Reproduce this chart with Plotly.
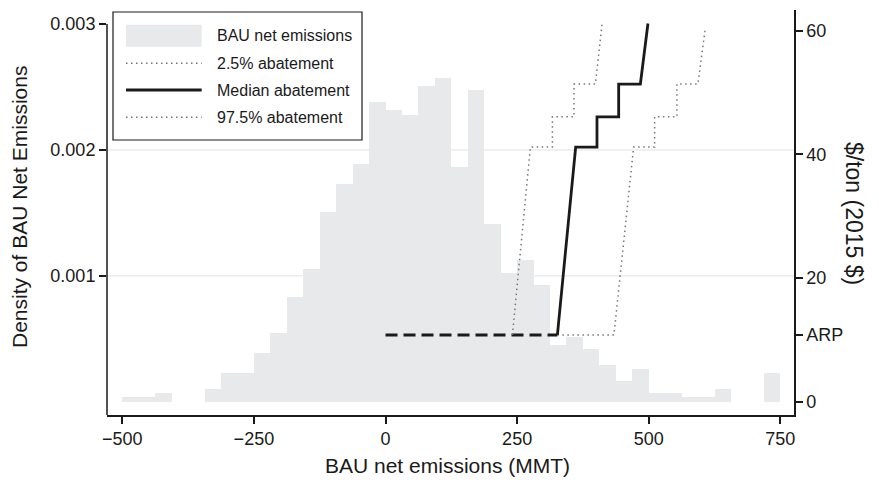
import plotly.graph_objects as go

# ---------------- data ----------------
bin_width = 31.25
bin_left = [-500, -468.75, -437.5, -343.75, -312.5, -281.25, -250, -218.75, -187.5, -156.25,
            -125, -93.75, -62.5, -31.25, 0, 31.25, 62.5, 93.75, 125, 156.25,
            187.5, 218.75, 250, 281.25, 312.5, 343.75, 375, 406.25, 437.5, 468.75,
            500, 531.25, 562.5, 593.75, 625, 718.75]
density = [0.00004, 0.00004, 0.000072, 0.000101, 0.000231, 0.000231, 0.00039, 0.000549, 0.000835, 0.001056,
           0.001509, 0.001732, 0.001891, 0.002379, 0.002313, 0.002281, 0.002506, 0.002567, 0.001861, 0.002472,
           0.001414, 0.001024, 0.001127, 0.000928, 0.000451, 0.000512, 0.000419, 0.000292, 0.000165, 0.00026,
           0.000069, 0.000069, 0.000037, 0.000037, 0.000101, 0.000228]

ARP = 10.8
arp_x = [0, 326.5]
arp_y = [ARP, ARP]

median_x = [326.5, 361.2, 401.7, 401.7, 442.9, 442.9, 484.1, 498.5]
median_y = [ARP, 41.2, 41.2, 46.1, 46.1, 51.4, 51.4, 61.2]

p025_x = [241.1, 275.2, 317.0, 317.0, 358.0, 358.0, 398.6, 411.2]
p025_y = [ARP, 41.2, 41.2, 46.1, 46.1, 51.4, 51.4, 61.0]

p975_x = [326.5, 433.9, 471.3, 511.2, 511.2, 553.5, 553.5, 593.4, 607.4]
p975_y = [ARP, ARP, 41.2, 41.2, 46.1, 46.1, 51.4, 51.4, 60.4]

x_ticks = [-500, -250, 0, 250, 500, 750]
x_ticktext = ["\u2212500", "\u2212250", "0", "250", "500", "750"]
left_ticks = [0.001, 0.002, 0.003]
left_ticktext = ["0.001", "0.002", "0.003"]
right_ticks = [0, ARP, 20, 40, 60]
right_ticktext = ["0", "ARP", "20", "40", "60"]
legend_labels = ["BAU net emissions", "2.5% abatement", "Median abatement", "97.5% abatement"]

# ---------------- styles ----------------
FONT = "Liberation Sans, Arial, Helvetica, sans-serif"
TXT = "#1a1a1a"
BAR = "#e8e9eb"
DOT = "#767676"
DOTDASH = "1.5px,3.5px"

OFF = 8  # page body margin
W, H = 879 - OFF, 485 - OFF
# plot area in page pixel coordinates
L_, R_, T_, B_ = 107, 794, 10, 415
L, R, T, B = L_ - OFF, R_ - OFF, T_ - OFF, B_ - OFF


def px(xp):
    return (xp - L_) / (R_ - L_)


def py(yp):
    return (B_ - yp) / (B_ - T_)


fig = go.Figure()

fig.add_trace(go.Bar(
    x=[v + bin_width / 2 for v in bin_left], y=density, width=bin_width,
    marker=dict(color=BAR, line=dict(width=0)), name=legend_labels[0], showlegend=False,
))

fig.add_trace(go.Scatter(x=arp_x, y=arp_y, yaxis="y2", mode="lines",
                         line=dict(color="#1a1a1a", width=3, dash="12px,6px"), showlegend=False))
fig.add_trace(go.Scatter(x=p025_x, y=p025_y, yaxis="y2", mode="lines", name=legend_labels[1],
                         line=dict(color=DOT, width=1.5, dash=DOTDASH), showlegend=False))
fig.add_trace(go.Scatter(x=p975_x, y=p975_y, yaxis="y2", mode="lines", name=legend_labels[3],
                         line=dict(color=DOT, width=1.5, dash=DOTDASH), showlegend=False))
fig.add_trace(go.Scatter(x=median_x, y=median_y, yaxis="y2", mode="lines", name=legend_labels[2],
                         line=dict(color="#1a1a1a", width=2.8), showlegend=False))

shapes = []
for g in [0.001, 0.002]:
    shapes.append(dict(type="line", xref="paper", yref="y", x0=0, x1=1, y0=g, y1=g,
                       line=dict(color="#ebebeb", width=1.5), layer="below"))
ymin_left = -0.0001056
shapes.append(dict(type="line", xref="paper", yref="y", x0=0, x1=0, y0=ymin_left, y1=0.003,
                   line=dict(color="#1a1a1a", width=1.5)))

# legend box
shapes.append(dict(type="rect", xref="paper", yref="paper", x0=px(113), x1=px(362), y0=py(140), y1=py(12),
                   line=dict(color="#1a1a1a", width=1.2), fillcolor="white"))
row_y = [35.7, 63.3, 90.0, 117.3]
shapes.append(dict(type="rect", xref="paper", yref="paper", x0=px(126), x1=px(201.7),
                   y0=py(row_y[0] + 11), y1=py(row_y[0] - 11), line=dict(width=0), fillcolor=BAR))
shapes.append(dict(type="line", xref="paper", yref="paper", x0=px(126), x1=px(201.7),
                   y0=py(row_y[1]), y1=py(row_y[1]), line=dict(color=DOT, width=1.5, dash=DOTDASH)))
shapes.append(dict(type="line", xref="paper", yref="paper", x0=px(126), x1=px(201.7),
                   y0=py(row_y[2]), y1=py(row_y[2]), line=dict(color="#1a1a1a", width=2.8)))
shapes.append(dict(type="line", xref="paper", yref="paper", x0=px(126), x1=px(201.7),
                   y0=py(row_y[3]), y1=py(row_y[3]), line=dict(color=DOT, width=1.5, dash=DOTDASH)))

annotations = []
for lab, ry in zip(legend_labels, row_y):
    annotations.append(dict(text=lab, xref="paper", yref="paper", x=px(215), y=py(ry),
                            xanchor="left", yanchor="middle", showarrow=False,
                            font=dict(size=16, color=TXT, family=FONT)))
annotations.append(dict(text="Density of BAU Net Emissions", xref="paper", yref="paper",
                        x=px(20), y=py(207), textangle=-90, showarrow=False, borderpad=0,
                        xanchor="center", yanchor="middle", font=dict(size=21, color=TXT, family=FONT)))
annotations.append(dict(text="$/ton (2015 $)", xref="paper", yref="paper",
                        x=px(854), y=py(213), textangle=90, showarrow=False, borderpad=0,
                        xanchor="center", yanchor="middle", font=dict(size=23, color=TXT, family=FONT)))
annotations.append(dict(text="BAU net emissions (MMT)", xref="paper", yref="paper",
                        x=px(447), y=py(465), showarrow=False,
                        xanchor="center", yanchor="middle", font=dict(size=21, color=TXT, family=FONT)))

axis_common = dict(showgrid=False, zeroline=False, ticks="outside", ticklen=7, tickwidth=1.5,
                   tickcolor="#1a1a1a", tickfont=dict(size=18, color=TXT, family=FONT))

fig.update_layout(
    width=W, height=H,
    margin=dict(l=L, r=W - R, t=T, b=H - B, pad=0),
    paper_bgcolor="white", plot_bgcolor="white",
    showlegend=False, bargap=0,
    font=dict(family=FONT, color=TXT, size=18),
    xaxis=dict(range=[-529.0, 775.9], tickvals=x_ticks, ticktext=x_ticktext,
               showline=True, linecolor="#1a1a1a", linewidth=1.5, **axis_common),
    yaxis=dict(range=[ymin_left, 0.003111], tickvals=left_ticks, ticktext=left_ticktext,
               showline=False, **axis_common),
    yaxis2=dict(range=[-2.152, 63.38], overlaying="y", side="right", anchor="x",
                tickvals=right_ticks, ticktext=right_ticktext,
                showline=True, linecolor="#1a1a1a", linewidth=1.5, **axis_common),
    shapes=shapes, annotations=annotations,
)

fig.write_html("out.html")
